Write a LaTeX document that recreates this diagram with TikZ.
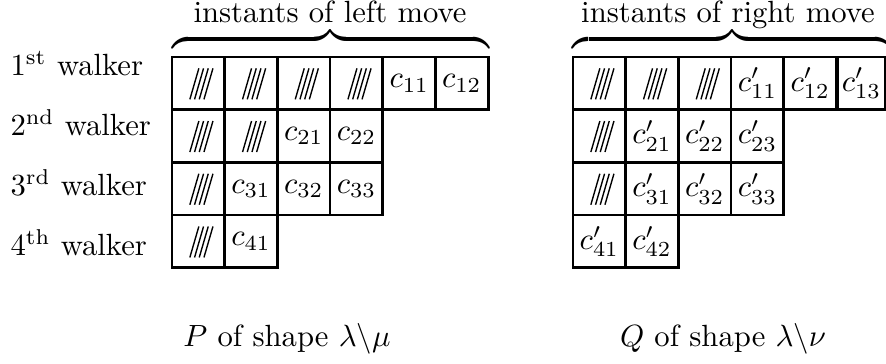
\documentclass[tikz,border=0pt]{standalone}
\usepackage{amsmath}
\begin{document}
\begin{tikzpicture}[x=0.326pt,y=-0.326pt]
\tikzset{
  cell/.style={draw, line width=0.9pt, minimum width=17.18pt, minimum height=17.18pt, inner sep=0pt, anchor=center},
  hatchline/.style={line width=0.45pt},
  lab/.style={anchor=base west, inner sep=0pt},
  ctext/.style={anchor=base, inner sep=0pt},
  bracenode/.style={inner sep=0pt, anchor=south}
}
\newcommand\hatchcell[1]{%
  \begin{scope}[shift={(#1.center)}]
    \foreach \i in {0,...,3} \draw[hatchline] ({-8.5+4.7*\i},16) -- ({0.5+4.7*\i},-15);
  \end{scope}}
\useasboundingbox (0,0) rectangle (886,364);

% left tableau
\foreach \r/\n/\h in {1/6/4, 2/4/2, 3/4/1, 4/2/1} {
  \foreach \c in {1,...,\n} {
    \pgfmathtruncatemacro\k{\c-\h}
    \ifnum\c>\h
      \node[cell] (L\r\c) at ({172+52.7*(\c-0.5)},{57+52.7*(\r-0.5)}) {$c_{\r\k}$};
    \else
      \node[cell] (L\r\c) at ({172+52.7*(\c-0.5)},{57+52.7*(\r-0.5)}) {};
      \hatchcell{L\r\c}
    \fi
  }
}

% right tableau
\foreach \r/\n/\h in {1/6/3, 2/4/1, 3/4/1, 4/2/0} {
  \foreach \c in {1,...,\n} {
    \pgfmathtruncatemacro\k{\c-\h}
    \ifnum\c>\h
      \ifnum\c=6
        \node[cell, minimum width=15.3pt] (R\r\c) at (861.5,{57+52.7*(\r-0.5)}) {$c'_{\r\k}$};
      \else
        \node[cell] (R\r\c) at ({573+52.7*(\c-0.5)},{57+52.7*(\r-0.5)}) {$c'_{\r\k}$};
      \fi
    \else
      \node[cell] (R\r\c) at ({573+52.7*(\c-0.5)},{57+52.7*(\r-0.5)}) {};
      \hatchcell{R\r\c}
    \fi
  }
}

% braces and titles
\node[bracenode] (lbrace) at (330.5,42) {\scalebox{1.15}{\hbox to 89.8pt{\downbracefill}}};
\node[bracenode] (rbrace) at (732,42) {\scalebox{1.15}{\hbox to 90.2pt{\downbracefill}}};
\node[ctext] (ltitle) at (330,23) {instants of left move};
\node[ctext] (rtitle) at (728,23) {instants of right move};

% row labels
\node[lab] (w1) at (10,76) {1\textsuperscript{st} walker};
\node[lab] (w2) at (10,136) {2\textsuperscript{nd} walker};
\node[lab] (w3) at (10,196) {3\textsuperscript{rd} walker};
\node[lab] (w4) at (10,256) {4\textsuperscript{th} walker};

% bottom captions
\node[ctext] (pcap) at (287,347) {$P$ of shape $\lambda\backslash\mu$};
\node[ctext] (qcap) at (723,347) {$Q$ of shape $\lambda\backslash\nu$};
\end{tikzpicture}
\end{document}
